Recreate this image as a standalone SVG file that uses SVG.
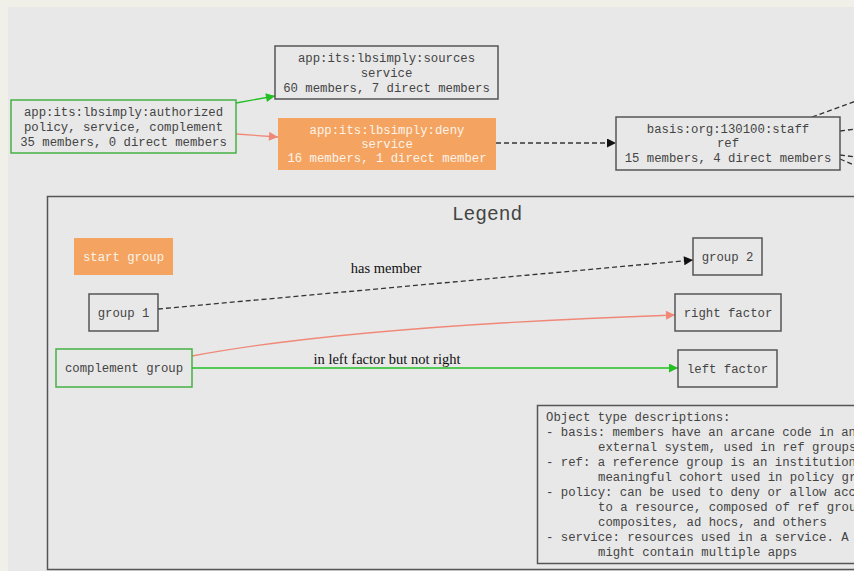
<svg xmlns="http://www.w3.org/2000/svg" width="854" height="571" viewBox="0 0 854 571">
<defs>
<style>
.bg{fill:#e8e8e8}
.n{fill:#e8e8e8;stroke:#555;stroke-width:1.5}
.g{fill:#e8e8e8;stroke:#44b044;stroke-width:1.5}
.o{fill:#f4a460;stroke:none}
.t{font-family:"Liberation Mono","Courier New",monospace;font-size:12.3px;fill:#444;text-anchor:middle}
.tw{font-family:"Liberation Mono","Courier New",monospace;font-size:12.3px;fill:#fdf3ea;text-anchor:middle}
.d{font-family:"Liberation Mono","Courier New",monospace;font-size:12.3px;fill:#444}
.lab{font-family:"Liberation Serif","Times New Roman",serif;font-size:14.5px;fill:#111;text-anchor:middle}
.eg{fill:none;stroke:#22c022;stroke-width:1.3}
.es{fill:none;stroke:#f08878;stroke-width:1.3}
.ed{fill:none;stroke:#333;stroke-width:1.3;stroke-dasharray:5,3}
</style>
<marker id="ag" viewBox="0 0 10 10" refX="10" refY="5" markerWidth="12" markerHeight="9" markerUnits="userSpaceOnUse" orient="auto"><path d="M0,0L10,5L0,10z" fill="#22c022"/></marker>
<marker id="as" viewBox="0 0 10 10" refX="10" refY="5" markerWidth="12" markerHeight="9" markerUnits="userSpaceOnUse" orient="auto"><path d="M0,0L10,5L0,10z" fill="#f08878"/></marker>
<marker id="ab" viewBox="0 0 10 10" refX="10" refY="5" markerWidth="12" markerHeight="9" markerUnits="userSpaceOnUse" orient="auto"><path d="M0,0L10,5L0,10z" fill="#111"/></marker>
</defs>
<rect x="0" y="0" width="854" height="571" fill="#f0f0e8"/>
<rect x="8" y="7" width="846" height="564" class="bg"/>

<g id="legend">
<rect x="47.5" y="196.5" width="820" height="373" fill="#e8e8e8" stroke="#555" stroke-width="1.5"/>
<text x="487" y="220" font-family="Liberation Mono,Courier New,monospace" font-size="19.5" fill="#444" text-anchor="middle">Legend</text>
</g>

<g id="connectors">
<path class="eg" d="M236,103 L275,96" marker-end="url(#ag)"/>
<path class="es" d="M236,134 L278,137" marker-end="url(#as)"/>
<path class="ed" d="M496,143 L616,143" marker-end="url(#ab)"/>
<path class="ed" d="M812,117 L856,101"/>
<path class="ed" d="M840,131 L856,129"/>
<path class="ed" d="M840,155 L856,157"/>
<path class="ed" d="M840,159 L856,166"/>
<path class="ed" d="M158,309 L693,260" marker-end="url(#ab)"/>
<path class="es" d="M192,356 C320,332 500,321 675,315" marker-end="url(#as)"/>
<path class="eg" d="M192,368 L678,368" marker-end="url(#ag)"/>
<text class="lab" x="386" y="273">has member</text>
<text class="lab" x="387" y="364">in left factor but not right</text>
</g>

<g id="authorized">
<rect class="g" x="11" y="100" width="225" height="53"/>
<text class="t" x="123.5" y="116">app:its:lbsimply:authorized</text>
<text class="t" x="123.5" y="131">policy, service, complement</text>
<text class="t" x="123.5" y="146">35 members, 0 direct members</text>
</g>
<g id="sources">
<rect class="n" x="275" y="46" width="223" height="53"/>
<text class="t" x="386.5" y="62">app:its:lbsimply:sources</text>
<text class="t" x="386.5" y="77">service</text>
<text class="t" x="386.5" y="92">60 members, 7 direct members</text>
</g>
<g id="deny">
<rect class="o" x="278" y="118" width="218" height="52"/>
<text class="tw" x="387" y="134">app:its:lbsimply:deny</text>
<text class="tw" x="387" y="148">service</text>
<text class="tw" x="387" y="162">16 members, 1 direct member</text>
</g>
<g id="staff">
<rect class="n" x="616" y="117" width="224" height="53"/>
<text class="t" x="728" y="133">basis:org:130100:staff</text>
<text class="t" x="728" y="147">ref</text>
<text class="t" x="728" y="162">15 members, 4 direct members</text>
</g>

<g id="start-group">
<rect class="o" x="74" y="238" width="99" height="37"/>
<text class="tw" x="123.5" y="261">start group</text>
</g>
<g id="group-1">
<rect class="n" x="89" y="294" width="69" height="37"/>
<text class="t" x="123.5" y="317">group 1</text>
</g>
<g id="complement-group">
<rect class="g" x="56" y="349" width="136" height="38"/>
<text class="t" x="124" y="372">complement group</text>
</g>
<g id="group-2">
<rect class="n" x="693" y="238" width="69" height="37"/>
<text class="t" x="727.5" y="261">group 2</text>
</g>
<g id="right-factor">
<rect class="n" x="675" y="294" width="106" height="37"/>
<text class="t" x="728" y="317">right factor</text>
</g>
<g id="left-factor">
<rect class="n" x="678" y="350" width="99" height="37"/>
<text class="t" x="727.5" y="373">left factor</text>
</g>
<g id="descriptions">
<rect class="n" x="537.5" y="405.5" width="330" height="158"/>
<text class="d" x="546" y="421">Object type descriptions:</text>
<text class="d" x="546" y="436">- basis: members have an arcane code in an</text>
<text class="d" x="598" y="451">external system, used in ref groups</text>
<text class="d" x="546" y="466">- ref: a reference group is an institution</text>
<text class="d" x="598" y="481">meaningful cohort used in policy gr</text>
<text class="d" x="546" y="496">- policy: can be used to deny or allow acc</text>
<text class="d" x="598" y="511">to a resource, composed of ref grou</text>
<text class="d" x="598" y="526">composites, ad hocs, and others</text>
<text class="d" x="546" y="541">- service: resources used in a service. A</text>
<text class="d" x="598" y="556">might contain multiple apps</text>
</g>
</svg>
